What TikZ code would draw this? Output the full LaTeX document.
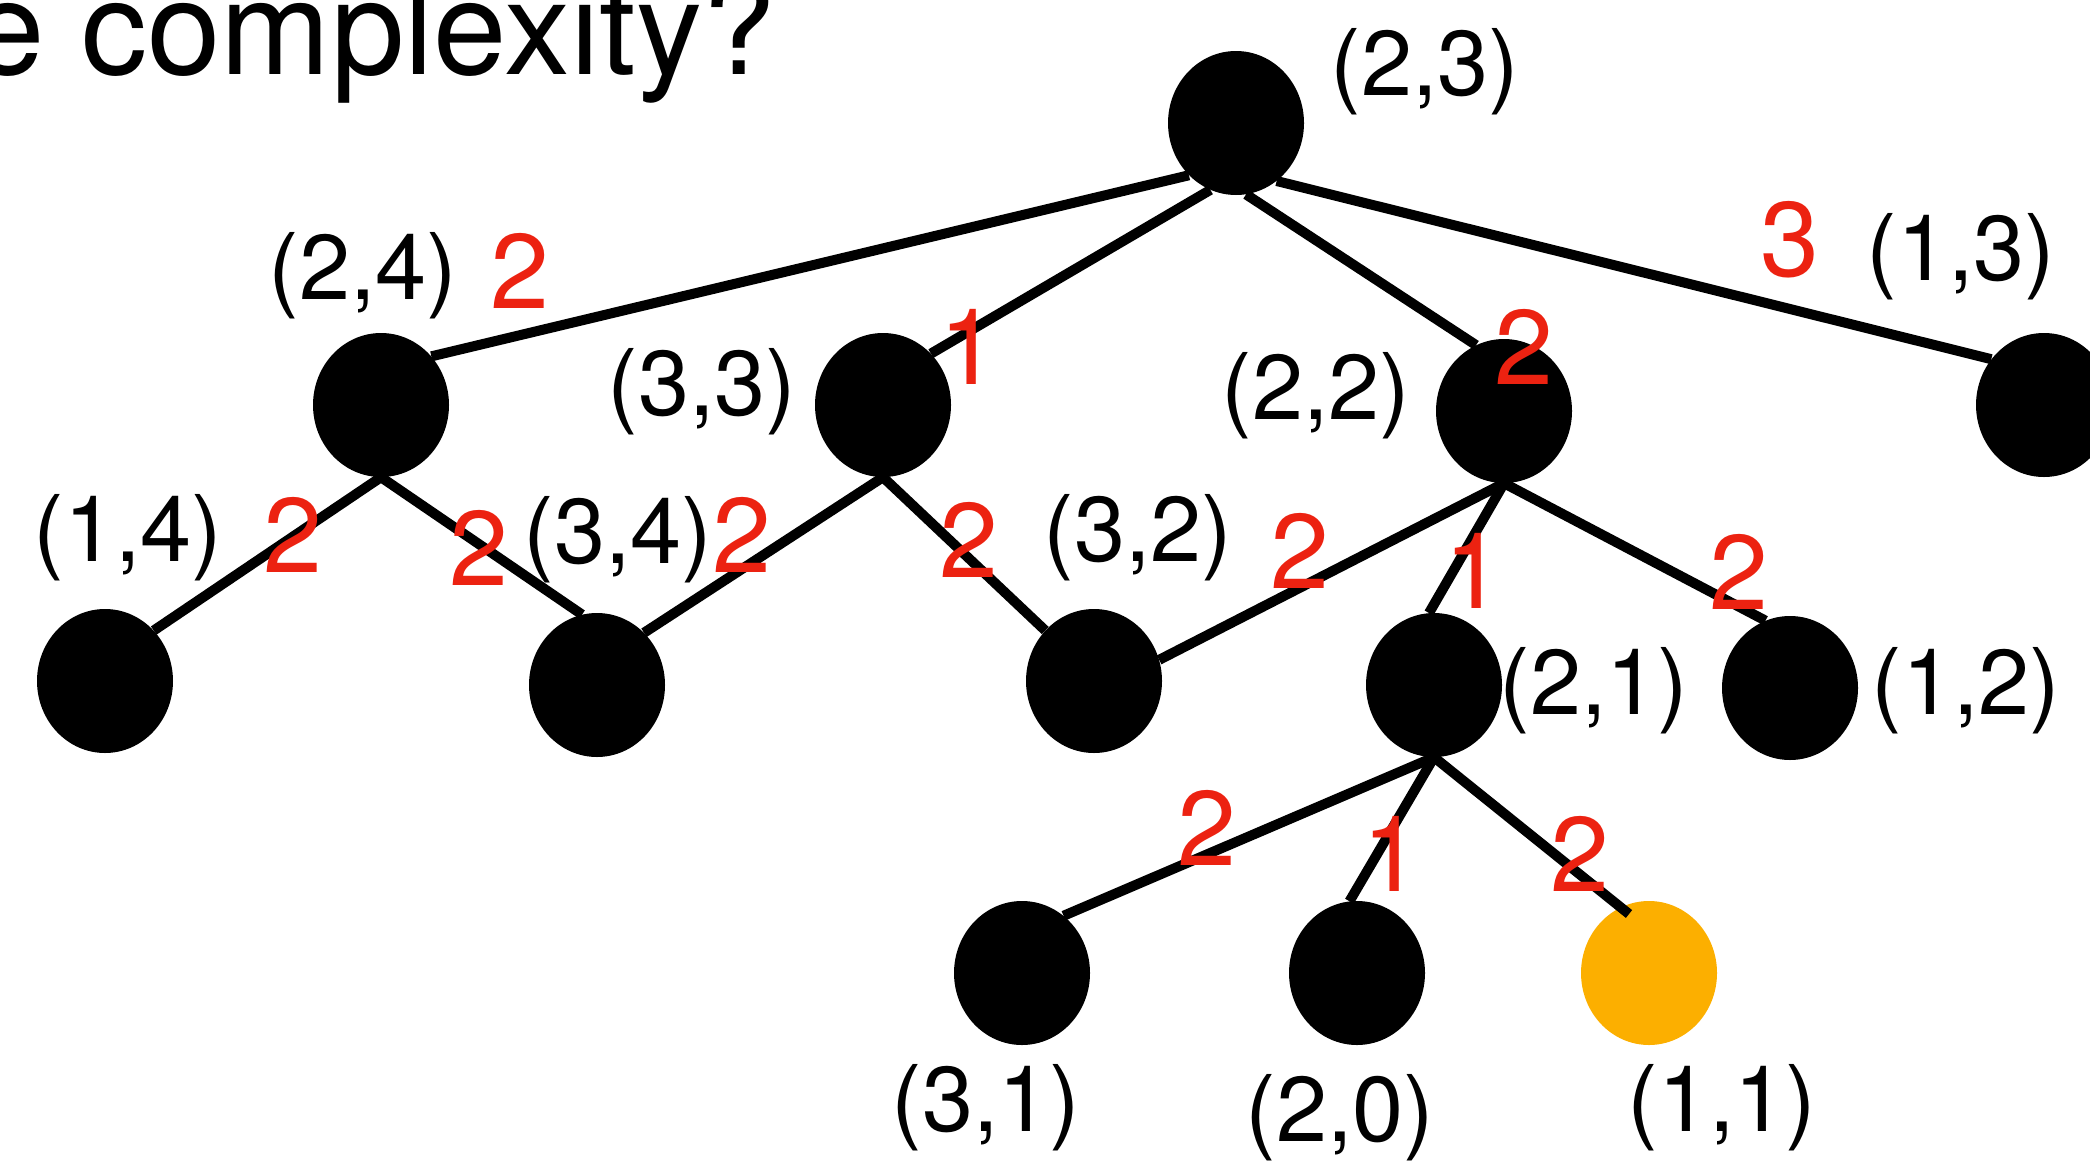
\documentclass[tikz,border=0pt]{standalone}
\usepackage{fontspec}
\setmainfont{TeX Gyre Heros}
\usetikzlibrary{shapes.geometric,calc}
\definecolor{numred}{RGB}{236,34,17}
\definecolor{goalorange}{RGB}{252,175,0}
\begin{document}
\begin{tikzpicture}[x=1pt,y=-1pt,
  vert/.style={ellipse,fill=black,minimum width=136pt,minimum height=144pt,inner sep=0pt},
  goalvert/.style={vert,fill=goalorange},
  lbl/.style={inner sep=0pt,font=\fontsize{92}{100}\selectfont},
  wt/.style={inner sep=0pt,text=numred,font=\fontsize{106}{110}\selectfont},
  edge/.style={line width=10pt}]
\useasboundingbox (0,0) rectangle (2090,1162);
% title
\node[anchor=base west,inner sep=0pt,font=\fontsize{132}{140}\selectfont] (title) at (-29,74) {e complexity?};
% vertices
\node[vert] (root) at (1236,123) {};
\node[vert] (n24) at (381,405) {};
\node[vert] (n33) at (883,405) {};
\node[vert] (n22) at (1504,411) {};
\node[vert] (n13) at (2044,405) {};
\node[vert] (n14) at (105,681) {};
\node[vert] (n34) at (597,685) {};
\node[vert] (n32) at (1094,681) {};
\node[vert] (n21) at (1434,685) {};
\node[vert] (n12) at (1790,688) {};
\node[vert] (n31) at (1022,973) {};
\node[vert] (n20) at (1357,973) {};
\node[goalvert] (n11) at (1649,973) {};
% edges
\draw[edge] (root.228) -- (n24.44);
\draw[edge] (root.249) -- (n33.47);
\draw[edge] (root.278) -- (n22.113);
\draw[edge] (root.305) -- (n13.139);
\draw[edge] (n24.south) -- (n14.46);
\draw[edge] (n24.south) -- (n34.102);
\draw[edge] (n33.south) -- (n34.48);
\draw[edge] (n33.south) -- (n32.134);
\draw[edge] (n22.south) -- (n32.18);
\draw[edge] (n22.south) -- (n21.94);
\draw[edge] (n22.south) -- (n12.110);
\draw[edge] (n21.south) -- (n31.54);
\draw[edge] (n21.south) -- (n20.96);
\draw[edge] (n21.south) -- ($(n11)+(-20,-59)$);
% state labels
\node[lbl] (l23) at (1425,72) {(2,3)};
\node[lbl] (l24) at (363,276) {(2,4)};
\node[lbl] (l13) at (1961,257) {(1,3)};
\node[lbl] (l33) at (702,392) {(3,3)};
\node[lbl] (l22) at (1316,396) {(2,2)};
\node[lbl] (l14) at (128,538) {(1,4)};
\node[lbl] (l34) at (618,540) {(3,4)};
\node[lbl] (l32) at (1138,538) {(3,2)};
\node[lbl] (l21) at (1594,691) {(2,1)};
\node[lbl] (l12) at (1966,691) {(1,2)};
\node[lbl] (l31) at (986,1108) {(3,1)};
\node[lbl] (l20) at (1340,1118) {(2,0)};
\node[lbl] (l11) at (1722,1108) {(1,1)};
% weights
\node[wt] (w1) at (520,271) {2};
\node[wt] (w2) at (969,347) {1};
\node[wt] (w3) at (1790,240) {3};
\node[wt] (w4) at (1524,347) {2};
\node[wt] (w5) at (293,535) {2};
\node[wt] (w6) at (479,548) {2};
\node[wt] (w7) at (742,535) {2};
\node[wt] (w8) at (969,540) {2};
\node[wt] (w9) at (1300,551) {2};
\node[wt] (w10) at (1474,571) {1};
\node[wt] (w11) at (1739,572) {2};
\node[wt] (w12) at (1207,828) {2};
\node[wt] (w13) at (1392,854) {1};
\node[wt] (w14) at (1580,854) {2};
\end{tikzpicture}
\end{document}
